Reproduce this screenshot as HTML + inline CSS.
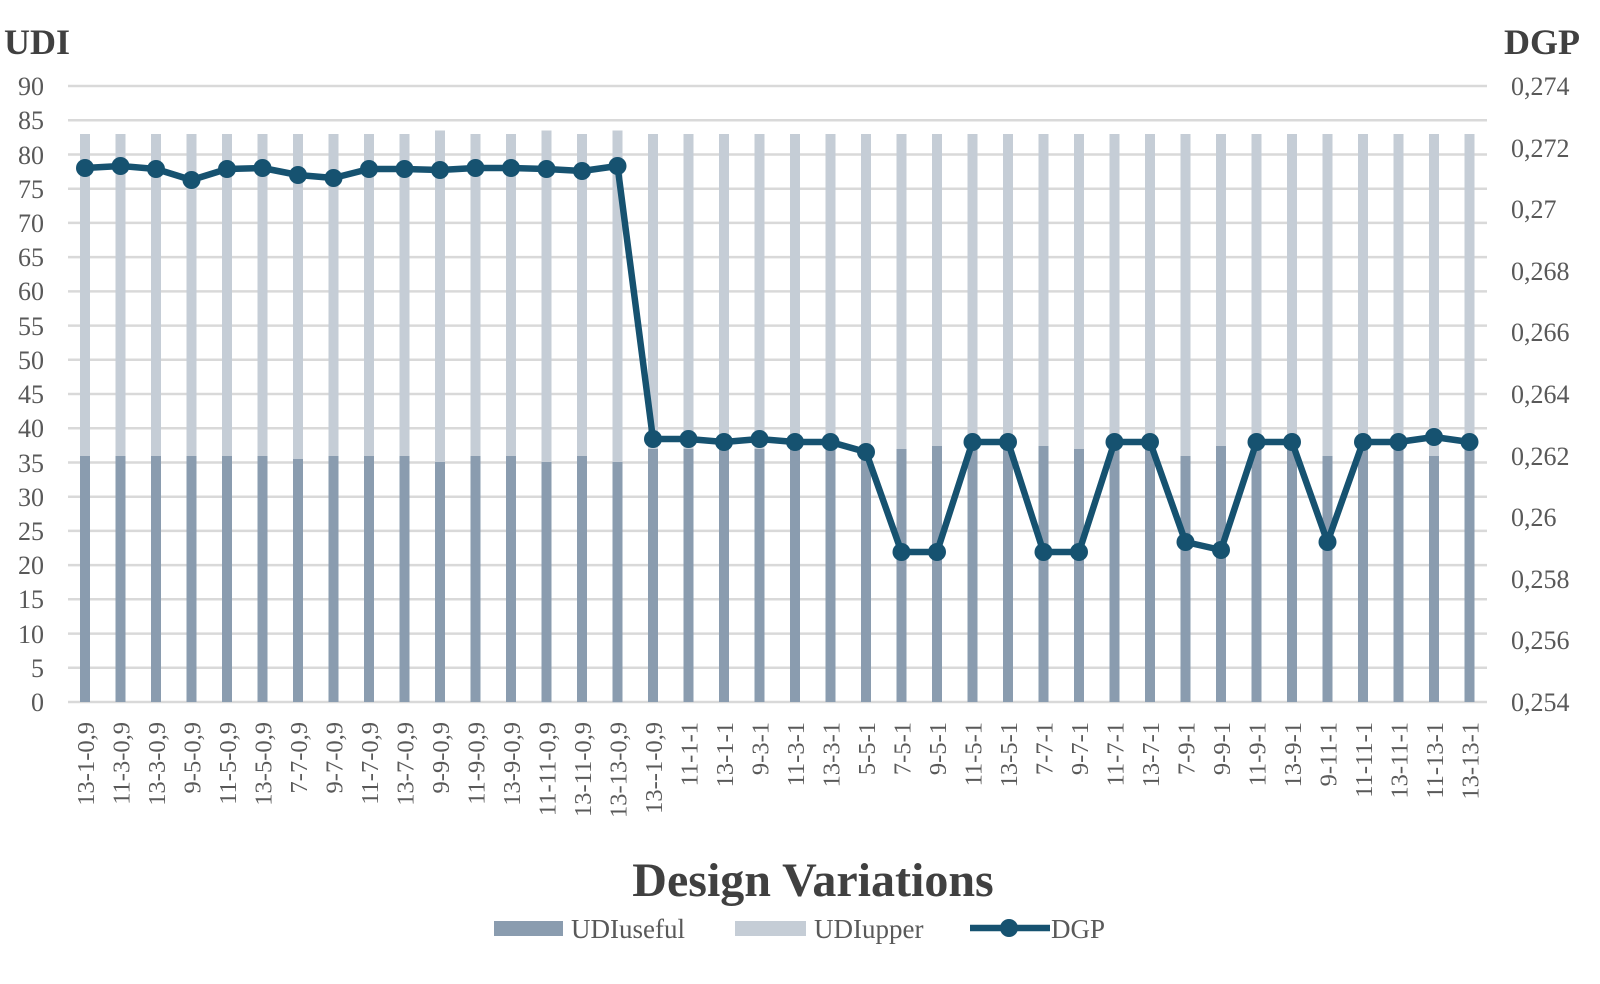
<!DOCTYPE html>
<html><head><meta charset="utf-8"><style>
html,body{margin:0;padding:0;background:#fff;}
svg text{font-family:"Liberation Serif",serif;}
</style></head><body>
<svg width="1600" height="979" viewBox="0 0 1600 979" xmlns="http://www.w3.org/2000/svg">
<g stroke="#d9d9d9" stroke-width="2.5">
<line x1="68" x2="1487" y1="702" y2="702"/><line x1="68" x2="1487" y1="667.8" y2="667.8"/><line x1="68" x2="1487" y1="633.6" y2="633.6"/><line x1="68" x2="1487" y1="599.3" y2="599.3"/><line x1="68" x2="1487" y1="565.1" y2="565.1"/><line x1="68" x2="1487" y1="530.9" y2="530.9"/><line x1="68" x2="1487" y1="496.7" y2="496.7"/><line x1="68" x2="1487" y1="462.5" y2="462.5"/><line x1="68" x2="1487" y1="428.2" y2="428.2"/><line x1="68" x2="1487" y1="394" y2="394"/><line x1="68" x2="1487" y1="359.8" y2="359.8"/><line x1="68" x2="1487" y1="325.6" y2="325.6"/><line x1="68" x2="1487" y1="291.4" y2="291.4"/><line x1="68" x2="1487" y1="257.1" y2="257.1"/><line x1="68" x2="1487" y1="222.9" y2="222.9"/><line x1="68" x2="1487" y1="188.7" y2="188.7"/><line x1="68" x2="1487" y1="154.5" y2="154.5"/><line x1="68" x2="1487" y1="120.3" y2="120.3"/><line x1="68" x2="1487" y1="86" y2="86"/>
</g>
<g fill="#c5cdd6">
<rect x="80" y="134" width="10" height="568"/><rect x="115.5" y="134" width="10" height="568"/><rect x="151" y="134" width="10" height="568"/><rect x="186.5" y="134" width="10" height="568"/><rect x="222" y="134" width="10" height="568"/><rect x="257.5" y="134" width="10" height="568"/><rect x="293" y="134" width="10" height="568"/><rect x="328.5" y="134" width="10" height="568"/><rect x="364" y="134" width="10" height="568"/><rect x="399.5" y="134" width="10" height="568"/><rect x="435" y="130.5" width="10" height="572"/><rect x="470.5" y="134" width="10" height="568"/><rect x="506" y="134" width="10" height="568"/><rect x="541.5" y="130.5" width="10" height="572"/><rect x="577" y="134" width="10" height="568"/><rect x="612.5" y="130.5" width="10" height="572"/><rect x="648" y="134" width="10" height="568"/><rect x="683.5" y="134" width="10" height="568"/><rect x="719" y="134" width="10" height="568"/><rect x="754.5" y="134" width="10" height="568"/><rect x="790" y="134" width="10" height="568"/><rect x="825.5" y="134" width="10" height="568"/><rect x="861" y="134" width="10" height="568"/><rect x="896.5" y="134" width="10" height="568"/><rect x="932" y="134" width="10" height="568"/><rect x="967.5" y="134" width="10" height="568"/><rect x="1003" y="134" width="10" height="568"/><rect x="1038.5" y="134" width="10" height="568"/><rect x="1074" y="134" width="10" height="568"/><rect x="1109.5" y="134" width="10" height="568"/><rect x="1145" y="134" width="10" height="568"/><rect x="1180.5" y="134" width="10" height="568"/><rect x="1216" y="134" width="10" height="568"/><rect x="1251.5" y="134" width="10" height="568"/><rect x="1287" y="134" width="10" height="568"/><rect x="1322.5" y="134" width="10" height="568"/><rect x="1358" y="134" width="10" height="568"/><rect x="1393.5" y="134" width="10" height="568"/><rect x="1429" y="134" width="10" height="568"/><rect x="1464.5" y="134" width="10" height="568"/>
</g>
<g fill="#8a9caf">
<rect x="80" y="456" width="10" height="246"/><rect x="115.5" y="456" width="10" height="246"/><rect x="151" y="456" width="10" height="246"/><rect x="186.5" y="456" width="10" height="246"/><rect x="222" y="456" width="10" height="246"/><rect x="257.5" y="456" width="10" height="246"/><rect x="293" y="459" width="10" height="243"/><rect x="328.5" y="456" width="10" height="246"/><rect x="364" y="456" width="10" height="246"/><rect x="399.5" y="456" width="10" height="246"/><rect x="435" y="462" width="10" height="240"/><rect x="470.5" y="456" width="10" height="246"/><rect x="506" y="456" width="10" height="246"/><rect x="541.5" y="462" width="10" height="240"/><rect x="577" y="456" width="10" height="246"/><rect x="612.5" y="462" width="10" height="240"/><rect x="648" y="449" width="10" height="253"/><rect x="683.5" y="449" width="10" height="253"/><rect x="719" y="449" width="10" height="253"/><rect x="754.5" y="449" width="10" height="253"/><rect x="790" y="449" width="10" height="253"/><rect x="825.5" y="449" width="10" height="253"/><rect x="861" y="456" width="10" height="246"/><rect x="896.5" y="449" width="10" height="253"/><rect x="932" y="446" width="10" height="256"/><rect x="967.5" y="449" width="10" height="253"/><rect x="1003" y="449" width="10" height="253"/><rect x="1038.5" y="446" width="10" height="256"/><rect x="1074" y="449" width="10" height="253"/><rect x="1109.5" y="449" width="10" height="253"/><rect x="1145" y="449" width="10" height="253"/><rect x="1180.5" y="456" width="10" height="246"/><rect x="1216" y="446" width="10" height="256"/><rect x="1251.5" y="449" width="10" height="253"/><rect x="1287" y="449" width="10" height="253"/><rect x="1322.5" y="456" width="10" height="246"/><rect x="1358" y="449" width="10" height="253"/><rect x="1393.5" y="449" width="10" height="253"/><rect x="1429" y="456" width="10" height="246"/><rect x="1464.5" y="449" width="10" height="253"/>
</g>
<polyline fill="none" stroke="#165270" stroke-width="6.5" stroke-linejoin="round" points="85,168 120.5,166 156,169 191.5,180 227,169 262.5,168 298,175 333.5,178 369,169 404.5,169 440,170 475.5,168 511,168 546.5,169 582,171 617.5,166 653,439 688.5,439 724,442 759.5,439 795,442 830.5,442 866,452 901.5,552 937,552 972.5,442 1008,442 1043.5,552 1079,552 1114.5,442 1150,442 1185.5,542 1221,550 1256.5,442 1292,442 1327.5,542 1363,442 1398.5,442 1434,437 1469.5,442"/>
<g fill="#165270">
<circle cx="85" cy="168" r="9"/><circle cx="120.5" cy="166" r="9"/><circle cx="156" cy="169" r="9"/><circle cx="191.5" cy="180" r="9"/><circle cx="227" cy="169" r="9"/><circle cx="262.5" cy="168" r="9"/><circle cx="298" cy="175" r="9"/><circle cx="333.5" cy="178" r="9"/><circle cx="369" cy="169" r="9"/><circle cx="404.5" cy="169" r="9"/><circle cx="440" cy="170" r="9"/><circle cx="475.5" cy="168" r="9"/><circle cx="511" cy="168" r="9"/><circle cx="546.5" cy="169" r="9"/><circle cx="582" cy="171" r="9"/><circle cx="617.5" cy="166" r="9"/><circle cx="653" cy="439" r="9"/><circle cx="688.5" cy="439" r="9"/><circle cx="724" cy="442" r="9"/><circle cx="759.5" cy="439" r="9"/><circle cx="795" cy="442" r="9"/><circle cx="830.5" cy="442" r="9"/><circle cx="866" cy="452" r="9"/><circle cx="901.5" cy="552" r="9"/><circle cx="937" cy="552" r="9"/><circle cx="972.5" cy="442" r="9"/><circle cx="1008" cy="442" r="9"/><circle cx="1043.5" cy="552" r="9"/><circle cx="1079" cy="552" r="9"/><circle cx="1114.5" cy="442" r="9"/><circle cx="1150" cy="442" r="9"/><circle cx="1185.5" cy="542" r="9"/><circle cx="1221" cy="550" r="9"/><circle cx="1256.5" cy="442" r="9"/><circle cx="1292" cy="442" r="9"/><circle cx="1327.5" cy="542" r="9"/><circle cx="1363" cy="442" r="9"/><circle cx="1398.5" cy="442" r="9"/><circle cx="1434" cy="437" r="9"/><circle cx="1469.5" cy="442" r="9"/>
</g>
<g fill="#595959" font-size="26" text-anchor="end">
<text x="44" y="711">0</text><text x="44" y="677">5</text><text x="44" y="643">10</text><text x="44" y="608">15</text><text x="44" y="574">20</text><text x="44" y="540">25</text><text x="44" y="506">30</text><text x="44" y="472">35</text><text x="44" y="437">40</text><text x="44" y="403">45</text><text x="44" y="369">50</text><text x="44" y="335">55</text><text x="44" y="300">60</text><text x="44" y="266">65</text><text x="44" y="232">70</text><text x="44" y="198">75</text><text x="44" y="164">80</text><text x="44" y="129">85</text><text x="44" y="95">90</text>
</g>
<g fill="#595959" font-size="26">
<text x="1511" y="711">0,254</text><text x="1511" y="649">0,256</text><text x="1511" y="588">0,258</text><text x="1511" y="526">0,26</text><text x="1511" y="465">0,262</text><text x="1511" y="403">0,264</text><text x="1511" y="341">0,266</text><text x="1511" y="280">0,268</text><text x="1511" y="218">0,27</text><text x="1511" y="157">0,272</text><text x="1511" y="95">0,274</text>
</g>
<g fill="#595959" font-size="24.5" text-anchor="end">
<text transform="translate(94,722) rotate(-90)">13-1-0,9</text>
<text transform="translate(129.5,722) rotate(-90)">11-3-0,9</text>
<text transform="translate(165,722) rotate(-90)">13-3-0,9</text>
<text transform="translate(200.5,722) rotate(-90)">9-5-0,9</text>
<text transform="translate(236,722) rotate(-90)">11-5-0,9</text>
<text transform="translate(271.5,722) rotate(-90)">13-5-0,9</text>
<text transform="translate(307,722) rotate(-90)">7-7-0,9</text>
<text transform="translate(342.5,722) rotate(-90)">9-7-0,9</text>
<text transform="translate(378,722) rotate(-90)">11-7-0,9</text>
<text transform="translate(413.5,722) rotate(-90)">13-7-0,9</text>
<text transform="translate(449,722) rotate(-90)">9-9-0,9</text>
<text transform="translate(484.5,722) rotate(-90)">11-9-0,9</text>
<text transform="translate(520,722) rotate(-90)">13-9-0,9</text>
<text transform="translate(555.5,722) rotate(-90)">11-11-0,9</text>
<text transform="translate(591,722) rotate(-90)">13-11-0,9</text>
<text transform="translate(626.5,722) rotate(-90)">13-13-0,9</text>
<text transform="translate(662,722) rotate(-90)">13--1-0,9</text>
<text transform="translate(697.5,722) rotate(-90)">11-1-1</text>
<text transform="translate(733,722) rotate(-90)">13-1-1</text>
<text transform="translate(768.5,722) rotate(-90)">9-3-1</text>
<text transform="translate(804,722) rotate(-90)">11-3-1</text>
<text transform="translate(839.5,722) rotate(-90)">13-3-1</text>
<text transform="translate(875,722) rotate(-90)">5-5-1</text>
<text transform="translate(910.5,722) rotate(-90)">7-5-1</text>
<text transform="translate(946,722) rotate(-90)">9-5-1</text>
<text transform="translate(981.5,722) rotate(-90)">11-5-1</text>
<text transform="translate(1017,722) rotate(-90)">13-5-1</text>
<text transform="translate(1052.5,722) rotate(-90)">7-7-1</text>
<text transform="translate(1088,722) rotate(-90)">9-7-1</text>
<text transform="translate(1123.5,722) rotate(-90)">11-7-1</text>
<text transform="translate(1159,722) rotate(-90)">13-7-1</text>
<text transform="translate(1194.5,722) rotate(-90)">7-9-1</text>
<text transform="translate(1230,722) rotate(-90)">9-9-1</text>
<text transform="translate(1265.5,722) rotate(-90)">11-9-1</text>
<text transform="translate(1301,722) rotate(-90)">13-9-1</text>
<text transform="translate(1336.5,722) rotate(-90)">9-11-1</text>
<text transform="translate(1372,722) rotate(-90)">11-11-1</text>
<text transform="translate(1407.5,722) rotate(-90)">13-11-1</text>
<text transform="translate(1443,722) rotate(-90)">11-13-1</text>
<text transform="translate(1478.5,722) rotate(-90)">13-13-1</text>
</g>
<text x="4" y="54" font-size="36" font-weight="bold" fill="#404040">UDI</text>
<text x="1580" y="54" font-size="36" font-weight="bold" fill="#404040" text-anchor="end">DGP</text>
<text x="813" y="896" font-size="48" font-weight="bold" fill="#404040" text-anchor="middle">Design Variations</text>
<rect x="494" y="921" width="69" height="15" fill="#8a9caf"/>
<text x="571" y="938" font-size="27" fill="#595959">UDIuseful</text>
<rect x="735" y="921" width="71" height="15" fill="#c5cdd6"/>
<text x="814" y="938" font-size="27" fill="#595959">UDIupper</text>
<line x1="970" y1="928" x2="1050" y2="928" stroke="#165270" stroke-width="6.5"/>
<circle cx="1009" cy="928" r="9" fill="#165270"/>
<text x="1051" y="938" font-size="27" fill="#595959">DGP</text>
</svg>
</body></html>
